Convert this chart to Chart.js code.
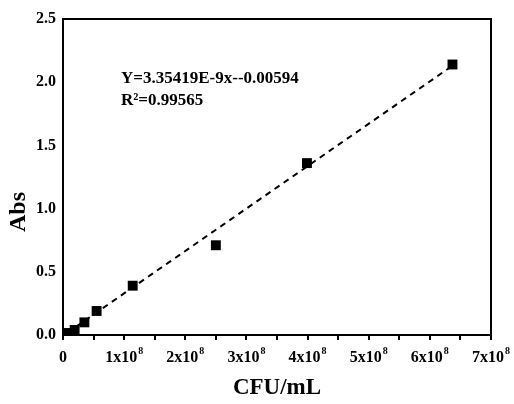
<!DOCTYPE html>
<html>
<head>
<meta charset="utf-8">
<script src="https://cdn.jsdelivr.net/npm/chart.js@4/dist/chart.umd.min.js"></script>
<style>
html,body{margin:0;padding:0;background:#fff;}
#wrap{width:514px;height:404px;}
</style>
</head>
<body>
<div id="wrap"><canvas id="c" width="514" height="404"></canvas></div>
<script>
// Data
const cfu = [0.06e8, 0.19e8, 0.35e8, 0.55e8, 1.14e8, 2.5e8, 3.99e8, 6.37e8];
const abs = [0.016, 0.04, 0.10, 0.19, 0.39, 0.71, 1.36, 2.14];
const fitSlope = 3.35419e-9;
const fitIntercept = -0.00594;
const fitX = [0.06e8, 6.37e8];
const equationLines = ["Y=3.35419E-9x--0.00594", "R\u00B2=0.99565"];
const xTickBase = ["0", "1x10", "2x10", "3x10", "4x10", "5x10", "6x10", "7x10"];
const xTickSup = ["", "8", "8", "8", "8", "8", "8", "8"];
const yTickLabels = ["0.0", "0.5", "1.0", "1.5", "2.0", "2.5"];
const xTitle = "CFU/mL";
const yTitle = "Abs";

const pts = cfu.map((x, i) => ({x: x, y: abs[i]}));
const fitPts = fitX.map(x => ({x: x, y: fitSlope * x + fitIntercept}));

const serif = '"Liberation Serif", "Times New Roman", serif';

const frame = {
  id: 'frame',
  afterDraw(chart) {
    const {ctx, chartArea: a} = chart;
    ctx.save();
    ctx.strokeStyle = '#000';
    ctx.lineWidth = 2;
    ctx.beginPath();
    ctx.moveTo(a.left, a.top);
    ctx.lineTo(a.right, a.top);
    ctx.lineTo(a.right, a.bottom);
    ctx.stroke();
    ctx.fillStyle = '#000';
    // equation
    ctx.font = 'bold 17px ' + serif;
    ctx.textAlign = 'left';
    ctx.textBaseline = 'alphabetic';
    ctx.fillText(equationLines[0], a.left + 58, 83);
    ctx.fillText(equationLines[1], a.left + 58, 105);
    // x tick labels with superscript
    const xs = chart.scales.x;
    for (let i = 0; i < xTickBase.length; i++) {
      const px = xs.getPixelForValue(i * 1e8);
      ctx.font = 'bold 16px ' + serif;
      const wb = ctx.measureText(xTickBase[i]).width;
      ctx.font = 'bold 10px ' + serif;
      const ws = xTickSup[i] ? ctx.measureText(xTickSup[i]).width + 1 : 0;
      const start = px - (wb + ws) / 2;
      ctx.font = 'bold 16px ' + serif;
      ctx.fillText(xTickBase[i], start, 362);
      if (xTickSup[i]) {
        ctx.font = 'bold 10px ' + serif;
        ctx.fillText(xTickSup[i], start + wb + 1, 354);
      }
    }
    // y title
    ctx.font = 'bold 24px ' + serif;
    ctx.translate(19, 212);
    ctx.rotate(-Math.PI / 2);
    ctx.textAlign = 'center';
    ctx.textBaseline = 'middle';
    ctx.fillText(yTitle, 0, 0);
    ctx.restore();
  }
};

new Chart(document.getElementById('c'), {
  type: 'scatter',
  data: {
    datasets: [
      {
        data: pts,
        pointStyle: 'rect',
        pointRadius: 7,
        pointHoverRadius: 7,
        backgroundColor: '#000',
        borderColor: '#000',
        borderWidth: 0,
        showLine: false,
        order: 1
      },
      {
        data: fitPts,
        showLine: true,
        borderColor: '#000',
        borderWidth: 2,
        borderDash: [6, 5],
        pointRadius: 0,
        fill: false,
        order: 2
      }
    ]
  },
  options: {
    responsive: false,
    animation: false,
    events: [],
    layout: {padding: {top: 19, right: 23, left: 0, bottom: 0}},
    plugins: {legend: {display: false}, tooltip: {enabled: false}},
    scales: {
      x: {
        type: 'linear',
        min: 0, max: 7e8,
        afterFit(s) { s.height = 69; },
        ticks: {
          stepSize: 0.5e8,
          autoSkip: false,
          maxRotation: 0,
          color: 'rgba(0,0,0,0)',
          padding: 4,
          font: {family: serif, size: 16, weight: 'bold'},
          callback(v) { return ''; }
        },
        grid: {display: true, drawOnChartArea: false, drawTicks: true, tickLength: 5, color: '#000', lineWidth: 2},
        border: {display: true, color: '#000', width: 2},
        title: {display: true, text: xTitle, color: '#000', font: {family: serif, size: 23, weight: 'bold'}, padding: {top: 0, bottom: 2}}
      },
      y: {
        type: 'linear',
        min: 0, max: 2.5,
        afterFit(s) { s.width = 63; },
        ticks: {
          stepSize: 0.5,
          color: '#000',
          padding: 7,
          font: {family: serif, size: 16, weight: 'bold'},
          callback(v) { return yTickLabels[Math.round(v * 2)]; }
        },
        grid: {display: false, drawTicks: false},
        border: {display: true, color: '#000', width: 2},
        title: {display: false}
      }
    }
  },
  plugins: [frame]
});
</script>
</body>
</html>
